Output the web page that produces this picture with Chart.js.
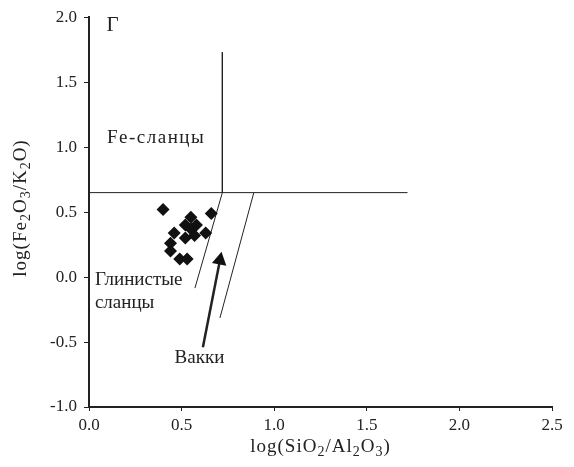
<!DOCTYPE html>
<html><head><meta charset="utf-8">
<script src="https://cdn.jsdelivr.net/npm/chart.js@4"></script>
<style>html,body{margin:0;padding:0;background:#fff}#wrap{width:574px;height:467px}</style>
</head><body><div id="wrap"><canvas id="c" width="574" height="467"></canvas></div>
<script>
// Sample points: log(SiO2/Al2O3), log(Fe2O3/K2O)
const sampleX = [0.40, 0.66, 0.55, 0.52, 0.55, 0.46, 0.63, 0.52, 0.57, 0.44, 0.44, 0.49, 0.53, 0.58];
const sampleY = [0.52, 0.49, 0.46, 0.40, 0.37, 0.34, 0.34, 0.30, 0.32, 0.26, 0.20, 0.14, 0.14, 0.40];
// Field boundaries
const hLineX = [0.0, 1.72], hLineY = [0.65, 0.65];
const vLineX = [0.72, 0.72], vLineY = [1.73, 0.65];
const shaleLineX = [0.72, 0.572], shaleLineY = [0.65, -0.085];
const wackeLineX = [0.89, 0.707], wackeLineY = [0.65, -0.315];
const arrowX = [0.615, 0.707], arrowY = [-0.54, 0.13];
// Tick labels
const xTicks = [0.0, 0.5, 1.0, 1.5, 2.0, 2.5];
const yTicks = [-1.0, -0.5, 0.0, 0.5, 1.0, 1.5, 2.0];
// Axis titles as [text, isSubscript] runs
const xTitle = [['log(SiO',0],['2',1],['/Al',0],['2',1],['O',0],['3',1],[')',0]];
const yTitle = [['log(Fe',0],['2',1],['O',0],['3',1],['/K',0],['2',1],['O)',0]];
// Field labels
const labelText = ['Г', 'Fe-сланцы', 'Глинистые', 'сланцы', 'Вакки'];
const labelX = [0.095, 0.097, 0.032, 0.032, 0.462];
const labelY = [1.94, 1.07, -0.02, -0.20, -0.62];

const pts = (xs, ys) => xs.map((x, i) => ({x, y: ys[i]}));
const FONT = '"Liberation Serif", "DejaVu Serif", serif';
const lineDs = (xs, ys) => ({type:'line', data: pts(xs, ys), borderColor:'#222', borderWidth:1, pointRadius:0, showLine:true, fill:false, tension:0});

function drawRuns(ctx, runs, cx, cy, size, subSize, spacing){
  ctx.letterSpacing = spacing + 'px';
  let w = 0;
  runs.forEach(([t, s]) => { ctx.font = (s ? subSize : size) + 'px ' + FONT; w += ctx.measureText(t).width; });
  let x = cx - w / 2;
  runs.forEach(([t, s]) => {
    ctx.font = (s ? subSize : size) + 'px ' + FONT;
    ctx.fillText(t, x, cy + (s ? size * 0.3 : 0));
    x += ctx.measureText(t).width;
  });
  ctx.letterSpacing = '0px';
}

const labelsPlugin = {
  id:'labels',
  afterDatasetsDraw(chart){
    const {ctx, scales:{x, y}, chartArea:ca} = chart;
    ctx.save();
    ctx.fillStyle = '#222';
    ctx.textBaseline = 'middle';
    ctx.textAlign = 'left';
    labelText.forEach((t, i) => {
      ctx.font = (i === 0 ? '21px ' : '19px ') + FONT;
      ctx.letterSpacing = (i === 1 ? '1.5px' : '0px');
      ctx.fillText(t, x.getPixelForValue(labelX[i]), y.getPixelForValue(labelY[i]));
    });
    ctx.letterSpacing = '0px';
    // axis titles
    drawRuns(ctx, xTitle, (ca.left + ca.right) / 2, 447, 19, 14, 1);
    ctx.translate(21, 208);
    ctx.rotate(-Math.PI / 2);
    drawRuns(ctx, yTitle, 0, 0, 19, 14, 1);
    ctx.restore();
  }
};

new Chart(document.getElementById('c'), {
  type:'scatter',
  data:{datasets:[
    {data: pts(sampleX, sampleY), pointStyle:'rectRot', pointRadius:6.5, backgroundColor:'#111', borderColor:'#111', borderWidth:0},
    lineDs(hLineX, hLineY),
    lineDs(vLineX, vLineY),
    lineDs(shaleLineX, shaleLineY),
    lineDs(wackeLineX, wackeLineY),
    Object.assign(lineDs(arrowX, arrowY), {borderWidth:2.5, pointRadius:[0, 6], pointStyle:'triangle', pointRotation:11, pointBackgroundColor:'#111', pointBorderColor:'#111'})
  ]},
  options:{
    responsive:false, animation:false,
    layout:{padding:{left:0, top:17, right:22, bottom:0}},
    plugins:{legend:{display:false}, tooltip:{enabled:false}},
    scales:{
      x:{type:'linear', min:0, max:2.5,
        afterBuildTicks(s){ s.ticks = xTicks.map(v => ({value:v})); },
        afterFit(s){ s.height = 60; },
        border:{display:true, color:'#222', width:2},
        grid:{display:true, drawOnChartArea:false, drawTicks:true, tickLength:4, color:'#222'},
        ticks:{color:'#222', font:{family:FONT, size:17}, padding:4, maxRotation:0, callback:v => v.toFixed(1)},
        title:{display:false}
      },
      y:{type:'linear', min:-1, max:2,
        afterBuildTicks(s){ s.ticks = yTicks.map(v => ({value:v})); },
        afterFit(s){ s.width = 89; },
        border:{display:true, color:'#222', width:2},
        grid:{display:true, drawOnChartArea:false, drawTicks:true, tickLength:5, color:'#222'},
        ticks:{color:'#222', font:{family:FONT, size:17}, padding:7, callback:v => v.toFixed(1)},
        title:{display:false}
      }
    }
  },
  plugins:[labelsPlugin]
});
</script></body></html>
